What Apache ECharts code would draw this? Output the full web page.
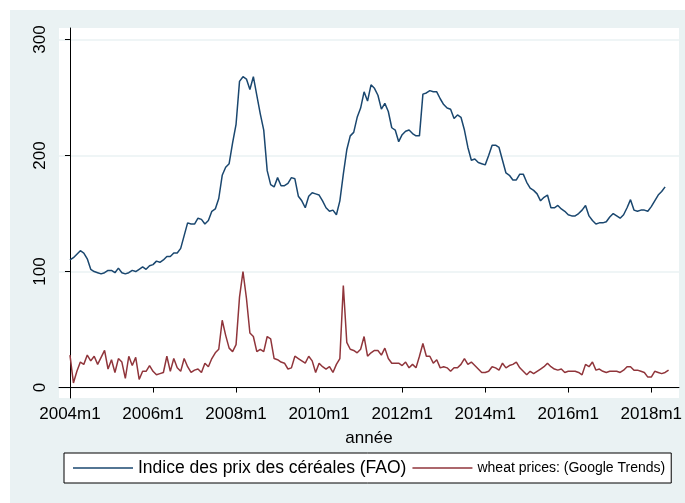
<!DOCTYPE html>
<html>
<head>
<meta charset="utf-8">
<script src="https://cdn.jsdelivr.net/npm/echarts@6/dist/echarts.min.js"></script>
<style>
    html, body { margin: 0; padding: 0; background: #fff; }
    #wrap { position: relative; width: 685px; height: 503px; background: #fff; }
    #chart { position: absolute; left: 10px; top: 10px; width: 675px; height: 493px; }
</style>
</head>
<body>
<div id="wrap"><div id="chart"></div></div>
<script>
// month index 0 = 2004m1
var xTickMonths = [0, 24, 48, 72, 96, 120, 144, 168];
var xTickLabels = ['2004m1', '2006m1', '2008m1', '2010m1', '2012m1', '2014m1', '2016m1', '2018m1'];
var yTicks = [0, 100, 200, 300];

var seriesNames = ['Indice des prix des céréales (FAO)', 'wheat prices: (Google Trends)'];

// FAO cereal price index, monthly from 2004m1
var faoIndex = [
    110, 112, 115, 118, 116, 111, 102, 100, 99, 98, 99, 101,
    101, 99, 103, 99, 98, 99, 101, 100, 102, 104, 102, 105,
    106, 109, 108, 110, 113, 113, 116, 116, 120, 131, 142, 141,
    141, 146, 145, 141, 144, 152, 154, 163, 183, 190, 193, 211,
    227, 264, 268, 266, 257, 268, 252, 236, 222, 187, 175, 173,
    181, 174, 174, 176, 181, 180, 165, 161, 155, 165, 168, 167,
    166, 161, 155, 152, 153, 149, 161, 184, 205, 217, 220, 233,
    241, 255, 247, 261, 258, 252, 240, 245, 238, 224, 222, 212,
    218, 221, 222, 219, 217, 217, 253, 254, 256, 255, 255, 249,
    244, 241, 240, 232, 235, 233, 222, 207, 196, 197, 194, 193,
    192, 200, 209, 209, 207, 196, 185, 183, 179, 179, 184, 184,
    177, 172, 170, 167, 161, 164, 166, 155, 155, 157, 154, 152,
    149, 148, 148, 150, 153, 157, 148, 144, 141, 142, 142, 143,
    147, 150, 148, 146, 149, 155, 162, 153, 152, 153, 153, 152,
    156, 161, 166, 169, 173
];

// Google Trends "wheat prices", monthly from 2004m1
var wheatTrends = [
    28, 4, 14, 22, 20, 28, 23, 27, 20, 26, 32, 16,
    24, 13, 25, 22, 8, 27, 19, 26, 7, 14, 14, 19,
    14, 11, 12, 13, 27, 14, 25, 17, 14, 25, 18, 13,
    15, 16, 13, 21, 18, 25, 30, 33, 58, 45, 34, 31,
    37, 78, 100, 77, 47, 44, 31, 33, 31, 44, 42, 25,
    24, 22, 21, 16, 17, 27, 25, 23, 21, 27, 23, 13,
    21, 18, 16, 18, 13, 20, 25, 88, 39, 33, 32, 30,
    33, 44, 27, 30, 32, 32, 28, 34, 25, 21, 21, 21,
    19, 22, 17, 20, 17, 27, 38, 27, 27, 21, 24, 17,
    18, 17, 14, 17, 17, 20, 25, 20, 22, 19, 16, 13,
    13, 14, 18, 17, 15, 21, 17, 19, 20, 22, 17, 14,
    11, 14, 12, 14, 16, 18, 21, 18, 16, 15, 16, 13,
    14, 14, 14, 13, 11, 20, 18, 22, 15, 16, 14, 13,
    14, 14, 14, 13, 15, 18, 18, 15, 15, 14, 13, 9,
    9, 14, 13, 12, 13, 15
];

function toPairs(vals) {
    return vals.map(function (v, i) { return [i, v]; });
}

var chart = echarts.init(document.getElementById('chart'));
var font = 'Liberation Sans, Arial, sans-serif';

var option = {
    animation: false,
    backgroundColor: '#eaf2f3',
    textStyle: { fontFamily: font },
    grid: {
        left: 49,
        right: 4,
        top: 18,
        bottom: 105,
        show: true,
        backgroundColor: '#fff',
        borderWidth: 0
    },
    legend: {
        left: 54,
        top: 443,
        orient: 'horizontal',
        icon: 'rect',
        itemWidth: 60,
        itemHeight: 1.5,
        itemGap: 6,
        padding: [6, 6, 6, 9],
        backgroundColor: '#fff',
        borderColor: '#000',
        borderWidth: 1,
        borderRadius: 0,
        textStyle: { color: '#000', fontFamily: font },
        data: [
            { name: seriesNames[0], textStyle: { fontSize: 17.5 } },
            { name: seriesNames[1], textStyle: { fontSize: 14 } }
        ]
    },
    xAxis: {
        type: 'value',
        min: -3.17,
        max: 176,
        name: 'année',
        nameLocation: 'middle',
        nameGap: 32,
        nameTextStyle: { fontSize: 17, color: '#000', fontFamily: font },
        axisLine: { show: true, lineStyle: { color: '#000', width: 1 } },
        axisTick: {
            show: true,
            length: 5,
            customValues: xTickMonths,
            lineStyle: { color: '#000', width: 1 }
        },
        axisLabel: {
            customValues: xTickMonths,
            fontSize: 17,
            color: '#000',
            margin: 8,
            formatter: function (v) {
                var k = xTickMonths.indexOf(Math.round(v));
                return k >= 0 ? xTickLabels[k] : '';
            }
        },
        splitLine: { show: false }
    },
    yAxis: {
        type: 'value',
        min: -9,
        max: 310,
        axisLine: { show: true, lineStyle: { color: '#000', width: 1 } },
        axisTick: {
            show: true,
            length: 5,
            customValues: yTicks,
            lineStyle: { color: '#000', width: 1 }
        },
        axisLabel: {
            customValues: yTicks,
            rotate: 90,
            fontSize: 17,
            color: '#000',
            margin: 10
        },
        splitLine: {
            show: true,
            lineStyle: { color: '#eaf2f3', width: 1.5 }
        }
    },
    series: [
        {
            name: seriesNames[0],
            type: 'line',
            showSymbol: false,
            color: '#1a476f',
            lineStyle: { width: 1.5, color: '#1a476f' },
            data: toPairs(faoIndex)
        },
        {
            name: seriesNames[1],
            type: 'line',
            showSymbol: false,
            color: '#90353b',
            lineStyle: { width: 1.5, color: '#90353b' },
            data: toPairs(wheatTrends)
        }
    ]
};
chart.setOption(option);
</script>
</body>
</html>
